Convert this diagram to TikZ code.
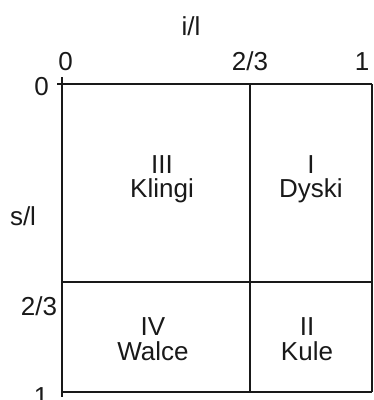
\documentclass[tikz,border=0pt]{standalone}
\usepackage{fontspec}
\setmainfont{Liberation Sans}
\begin{document}
\begin{tikzpicture}[x=1pt,y=-1pt,
  gridline/.style={line width=1.9pt,black!90},
  lbl/.style={anchor=base,inner sep=0pt,font=\fontsize{26}{25}\selectfont,text=black!90}]
\useasboundingbox (0,0) rectangle (374,400);
\coordinate (tl) at (62,84);
\coordinate (tr) at (372,84);
\coordinate (bl) at (62,392);
\coordinate (br) at (372,392);
\coordinate (vt) at (250,84);
\coordinate (vb) at (250,392);
\coordinate (hl) at (62,282);
\coordinate (hr) at (372,282);
\coordinate (tickx) at (57,84);
\coordinate (ticky) at (62,77);
\coordinate (lend) at (62,397);
% lines
\draw[gridline] (tickx) -- (tr);
\draw[gridline] (ticky) -- (lend);
\draw[gridline] (tr) -- (br);
\draw[gridline] (bl) -- (br);
\draw[gridline] (vt) -- (vb);
\draw[gridline] (hl) -- (hr);
% axis labels
\node[lbl] (il) at (191,35) {i/l};
\node[lbl] (x0) at (65.5,70) {0};
\node[lbl] (x23) at (250,70) {2/3};
\node[lbl] (x1) at (362,70) {1};
\node[lbl] (y0) at (41.5,95) {0};
\node[lbl] (sl) at (23,225) {s/l};
\node[lbl] (y23) at (39,315) {2/3};
\node[lbl] (y1) at (41,405) {1};
% cell labels
\node[lbl] (c3a) at (162,173) {III};
\node[lbl] (c3b) at (162,197) {Klingi};
\node[lbl] (c1a) at (311,173) {I};
\node[lbl] (c1b) at (311,197) {Dyski};
\node[lbl] (c4a) at (153,335) {IV};
\node[lbl] (c4b) at (153,360) {Walce};
\node[lbl] (c2a) at (307,335) {II};
\node[lbl] (c2b) at (307,360) {Kule};
\end{tikzpicture}
\end{document}
